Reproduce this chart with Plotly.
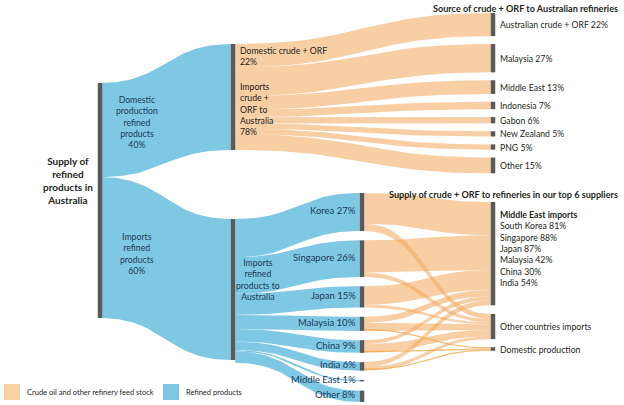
import numpy as np
import plotly.graph_objects as go

# ---------------- data ----------------
supply_labels = ["Domestic<br>production<br>refined<br>products", "Imports<br>refined<br>products"]
supply_shares = [40, 60]

crude_split_labels = ["Domestic crude + ORF", "Imports<br>crude +<br>ORF to<br>Australia"]
crude_split_shares = [22, 78]

crude_source_labels = ["Australian crude + ORF", "Malaysia", "Middle East", "Indonesia",
                       "Gabon", "New Zealand", "PNG", "Other"]
crude_source_shares = [22, 27, 13, 7, 6, 5, 5, 15]

import_labels = ["Korea", "Singapore", "Japan", "Malaysia", "China", "India", "Middle East", "Other"]
import_shares = [27, 26, 15, 10, 9, 6, 1, 8]

supplier_labels = ["South Korea", "Singapore", "Japan", "Malaysia", "China", "India"]
supplier_me_shares = [81, 88, 87, 42, 30, 54]
domestic_crude_suppliers = ["Malaysia", "China", "India"]

# ---------------- layout constants ----------------
W, H = 624, 405
X0, X1, X2, X3 = 100, 233, 362, 493
BAR_W = 4.5
BAR_C = "#5a5a5a"
BLUE = "#7fc8e4"
ORANGE = "rgba(242,165,90,0.55)"
TXT = "#231f20"
TXT_B = "#1b3a55"
FONT = "Lato"
FS = 8.7

SUPPLY_TOP, SUPPLY_SCALE = 83, 2.35
CRUDE_NODE_TOP, CRUDE_SCALE = 44, 1.06
CRUDE_TGT_TOP, CRUDE_TGT_SCALE, CRUDE_TGT_GAP = 13, 1.05, 7.9
IMPORT_NODE_TOP, IMPORT_SCALE = 219, 1.41
IMP_TGT_TOP, IMP_TGT_GAP = 193, 9.3
ME_TOP, ME_SCALE = 202, 1.52
OTH_TOP, OTH_SCALE = 314, 1.0
DOM_Y, DOM_W = 349, 1.2

fig = go.Figure()


def curve(xa, ya, xb, yb, n=60):
    t = np.linspace(0, 1, n)
    xm = (xa + xb) / 2
    bx = (1 - t) ** 3 * xa + 3 * (1 - t) ** 2 * t * xm + 3 * (1 - t) * t ** 2 * xm + t ** 3 * xb
    s = 3 * t ** 2 - 2 * t ** 3
    return bx, ya + (yb - ya) * s


def band(xa, ya0, ya1, xb, yb0, yb1, color):
    x, top = curve(xa, ya0, xb, yb0)
    _, bot = curve(xa, ya1, xb, yb1)
    fig.add_trace(go.Scatter(x=np.concatenate([x, x[::-1]]), y=np.concatenate([top, bot[::-1]]),
                             fill="toself", fillcolor=color, mode="lines", line=dict(width=0),
                             hoverinfo="skip", showlegend=False))


def bar(x, y0, y1):
    fig.add_shape(type="rect", xref="x", yref="y", x0=x - BAR_W / 2, x1=x + BAR_W / 2,
                  y0=y0, y1=y1, fillcolor=BAR_C, line=dict(width=0), layer="above")


def label(x, y, text, anchor="left", size=FS, color=TXT, bold=False, align=None, yanchor="middle"):
    if bold:
        text = "<b>" + text + "</b>"
    fig.add_annotation(x=x, y=y, xref="x", yref="y", text=text, showarrow=False,
                       xanchor=anchor, yanchor=yanchor, align=align or anchor,
                       borderpad=0, font=dict(family=FONT, size=size, color=color))


def stack(top, values, scale, gap=0.0):
    out, y = [], top
    for v in values:
        out.append((y, y + v * scale))
        y += v * scale + gap
    return out

# ---- column 0 -> column 1 (blue) ----
supply_segs = stack(SUPPLY_TOP, supply_shares, SUPPLY_SCALE)
crude_node = (CRUDE_NODE_TOP, CRUDE_NODE_TOP + sum(crude_split_shares) * CRUDE_SCALE)
import_node = (IMPORT_NODE_TOP, IMPORT_NODE_TOP + supply_shares[1] * SUPPLY_SCALE)
for (a0, a1), (b0, b1) in zip(supply_segs, [crude_node, import_node]):
    band(X0, a0, a1, X1 - BAR_W / 2, b0, b1, BLUE)

# ---- top section: crude sources (orange) ----
crude_src = stack(crude_node[0], crude_source_shares, CRUDE_SCALE)
crude_tgt = stack(CRUDE_TGT_TOP, crude_source_shares, CRUDE_TGT_SCALE, CRUDE_TGT_GAP)
for (a0, a1), (b0, b1) in zip(crude_src, crude_tgt):
    band(X1 + BAR_W / 2, a0, a1, X3 - BAR_W / 2, b0, b1, ORANGE)

# ---- lower section: imports by supplier (blue) ----
imp_src = stack(import_node[0], import_shares, IMPORT_SCALE)
imp_tgt = stack(IMP_TGT_TOP, import_shares, IMPORT_SCALE, IMP_TGT_GAP)
for (a0, a1), (b0, b1) in zip(imp_src, imp_tgt):
    band(X1 + BAR_W / 2, a0, a1, X2 - BAR_W / 2, b0, b1, BLUE)

# ---- lower section: crude supply of top 6 suppliers (orange) ----
me_vals = [imp * me / 100 for imp, me in zip(import_shares, supplier_me_shares)]
oth_vals = [imp * (100 - me) / 100 for imp, me in zip(import_shares, supplier_me_shares)]
me_tgt = stack(ME_TOP, me_vals, ME_SCALE)
oth_tgt = stack(OTH_TOP, oth_vals, OTH_SCALE)
dom_lines = []
for i, name in enumerate(supplier_labels):
    s0, s1 = imp_tgt[i]
    split = s0 + me_vals[i] * IMPORT_SCALE
    band(X2 + BAR_W / 2, s0, split, X3 - BAR_W / 2, me_tgt[i][0], me_tgt[i][1], ORANGE)
    band(X2 + BAR_W / 2, split, s1, X3 - BAR_W / 2, oth_tgt[i][0], oth_tgt[i][1], ORANGE)
    if import_labels[i] in domestic_crude_suppliers:
        dom_lines.append(s1 - DOM_W)
n_dom = len(dom_lines)
for k, ys in enumerate(dom_lines):
    yt = DOM_Y - n_dom * DOM_W / 2 + (k + 0.5) * DOM_W
    cx, cy = curve(X2 + BAR_W / 2, ys, X3 - BAR_W / 2, yt)
    fig.add_trace(go.Scatter(x=cx, y=cy, mode="lines", line=dict(width=DOM_W, color="rgba(240,170,80,0.8)"),
                             hoverinfo="skip", showlegend=False))

# ---- node bars ----
bar(X0, supply_segs[0][0], supply_segs[-1][1])
bar(X1, *crude_node)
bar(X1, *import_node)
for b0, b1 in crude_tgt:
    bar(X3, b0, b1)
for b0, b1 in imp_tgt:
    bar(X2, b0, b1)
bar(X3, me_tgt[0][0], me_tgt[-1][1])
bar(X3, oth_tgt[0][0], oth_tgt[-1][1])
bar(X3, DOM_Y - n_dom * DOM_W / 2, DOM_Y + n_dom * DOM_W / 2)

# ---- labels ----
label(68, 180, "Supply of<br>refined<br>products in<br>Australia", anchor="center", size=10, bold=True)
label(137, 122, f"{supply_labels[0]}<br>{supply_shares[0]}%", anchor="center", color=TXT_B)
label(137, 253, f"{supply_labels[1]}<br>{supply_shares[1]}%", anchor="center", color=TXT_B)
crude_split_segs = stack(crude_node[0], crude_split_shares, CRUDE_SCALE)
for (s0, s1), lab, v in zip(crude_split_segs, crude_split_labels, crude_split_shares):
    label(X1 + 6, (s0 + s1) / 2, f"{lab}<br>{v}%")
label(258, 279, "Imports<br>refined<br>products to<br>Australia", anchor="center", color=TXT_B)

for (b0, b1), lab, v in zip(crude_tgt, crude_source_labels, crude_source_shares):
    label(X3 + 6, (b0 + b1) / 2, f"{lab} {v}%")
for (b0, b1), lab, v in zip(imp_tgt, import_labels, import_shares):
    label(X2 - 5, (b0 + b1) / 2 - 1.5, f"{lab} {v}%", anchor="right", color=TXT_B, size=9.5)

me_lines = "<br>".join(f"{n} {v}%" for n, v in zip(supplier_labels, supplier_me_shares))
label(X3 + 6, me_tgt[0][0] + 6, "<b>Middle East imports</b><br>" + me_lines, yanchor="top")
label(X3 + 6, (oth_tgt[0][0] + oth_tgt[-1][1]) / 2, "Other countries imports")
label(X3 + 6, DOM_Y, "Domestic production")

label(619, 8, "Source of crude + ORF to Australian refineries", anchor="right", bold=True, size=9.1)
label(619, 194, "Supply of crude + ORF to refineries in our top 6 suppliers", anchor="right", bold=True, size=9.1)

# ---- legend ----
for x0, col, txt in [(4, "#f9d3a4", "Crude oil and other refinery feed stock"),
                     (163, BLUE, "Refined products")]:
    fig.add_shape(type="rect", xref="x", yref="y", x0=x0, x1=x0 + 16, y0=384, y1=400,
                  fillcolor=col, line=dict(width=0))
    label(x0 + 22, 392.5, txt, size=7.5)

fig.update_layout(
    width=W, height=H, margin=dict(l=0, r=0, t=0, b=0),
    paper_bgcolor="white", plot_bgcolor="white",
    xaxis=dict(range=[0, W], visible=False, fixedrange=True),
    yaxis=dict(range=[H, 0], visible=False, fixedrange=True),
    showlegend=False,
)
fig.write_html("out.html", config={"displayModeBar": False},
               post_script="document.body.style.margin='0px';document.body.style.overflow='hidden';")
